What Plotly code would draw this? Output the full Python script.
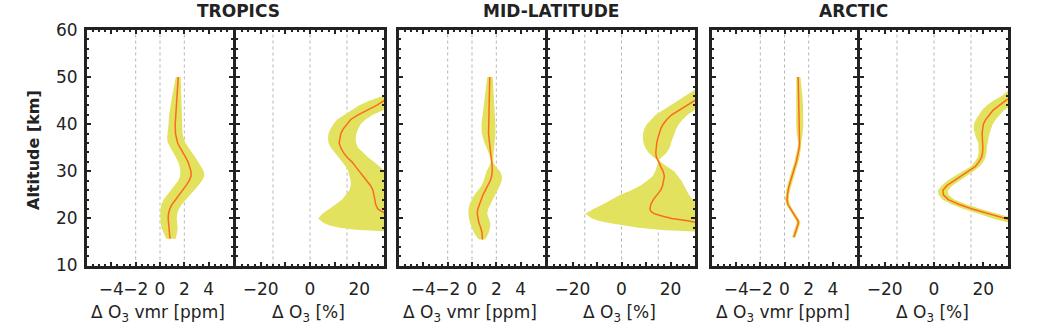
import plotly.graph_objects as go

W, H = 1043, 324

# ---------------- data ----------------
# Tropics, absolute difference (ppm)
trop_vmr_alt = [50, 48, 46, 44, 42, 40, 38, 37, 36, 35, 34, 33, 32, 31, 30, 29, 28, 27, 26, 25, 24, 23, 22, 21, 20, 19, 18, 17, 16, 15.7]
trop_vmr_lo = [1.3, 1.15, 1.0, 0.85, 0.75, 0.7, 0.6, 0.58, 0.65, 0.85, 1.1, 1.3, 1.5, 1.62, 1.67, 1.65, 1.5, 1.25, 0.95, 0.6, 0.3, 0.12, 0.05, 0.02, 0.02, 0.05, 0.12, 0.3, 0.45, 0.5]
trop_vmr_mean = [1.5, 1.45, 1.42, 1.35, 1.28, 1.25, 1.27, 1.33, 1.45, 1.65, 1.9, 2.1, 2.3, 2.45, 2.55, 2.55, 2.4, 2.15, 1.85, 1.55, 1.25, 1.0, 0.8, 0.7, 0.67, 0.7, 0.75, 0.8, 0.82, 0.82]
trop_vmr_hi = [1.7, 1.72, 1.73, 1.75, 1.78, 1.8, 1.85, 1.95, 2.1, 2.35, 2.65, 2.9, 3.15, 3.4, 3.6, 3.65, 3.45, 3.15, 2.8, 2.45, 2.1, 1.8, 1.55, 1.42, 1.37, 1.4, 1.45, 1.4, 1.35, 1.3]

# Tropics, relative difference (%)
trop_pct_alt = [50, 48, 47, 46, 45, 44, 43, 42, 41, 40, 39, 38, 37, 36, 35, 34, 33, 32, 31, 30, 29, 28, 27, 26, 25, 24, 23, 22, 21.5, 21, 20, 19, 18.5, 18, 17.6, 17.3, 17]
trop_pct_lo = [45, 38, 33, 29.5, 24, 20, 17, 14, 11, 9.5, 8.3, 7.5, 7.3, 7.5, 8.5, 10, 11.5, 13, 14.5, 15.5, 16, 16.5, 16.5, 16, 14.5, 13, 10.5, 8, 6.5, 5, 3.3, 5.5, 8, 12, 18.7, 29, 40]
trop_pct_mean = [60, 50, 42, 36, 30, 27, 23, 19.5, 16.5, 15, 13.5, 12.5, 12, 11.8, 12.5, 13.5, 15, 17, 18.5, 20, 21.5, 23, 24.5, 25.5, 26, 26.3, 26.6, 27.5, 29, 31, 35, 38, 40, 42, 44, 45, 46]
trop_pct_hi = [75, 62, 55, 48, 40, 34, 30, 25.5, 22.5, 20.5, 19.5, 18.8, 18.5, 18.7, 19.5, 21.5, 23.5, 26, 28.5, 30.5, 32, 33, 34, 35, 36, 37, 38, 40, 41, 42, 45, 48, 50, 52, 54, 56, 58]

# Mid-latitude, absolute difference (ppm)
mid_vmr_alt = [50, 48, 46, 44, 42, 40, 38, 37, 36, 35, 34, 33, 32, 31, 30, 29, 28, 27, 26, 25, 24, 23, 22, 21, 20, 19, 18, 17, 16, 15.5]
mid_vmr_lo = [1.25, 1.18, 1.08, 0.97, 0.88, 0.78, 0.8, 0.9, 1.03, 1.2, 1.38, 1.5, 1.56, 1.4, 1.2, 1.08, 0.95, 0.8, 0.5, 0.2, 0.0, -0.2, -0.28, -0.3, -0.25, -0.16, -0.02, 0.15, 0.4, 0.6]
mid_vmr_mean = [1.46, 1.44, 1.41, 1.39, 1.35, 1.33, 1.36, 1.4, 1.44, 1.5, 1.56, 1.62, 1.65, 1.66, 1.66, 1.62, 1.5, 1.33, 1.1, 0.9, 0.76, 0.6, 0.48, 0.43, 0.48, 0.57, 0.72, 0.82, 0.85, 0.85]
mid_vmr_hi = [1.7, 1.75, 1.8, 1.84, 1.88, 1.92, 1.93, 1.91, 1.87, 1.83, 1.78, 1.76, 1.75, 1.95, 2.3, 2.46, 2.44, 2.3, 2.1, 1.88, 1.72, 1.5, 1.32, 1.25, 1.35, 1.5, 1.48, 1.38, 1.2, 1.05]

# Mid-latitude, relative difference (%)
mid_pct_alt = [50, 48, 47, 46, 45, 44, 43, 42, 41, 40, 39, 38, 37, 36, 35, 34, 33, 32.5, 32, 31, 30, 29, 28, 27, 26, 25, 24, 23, 22, 21.5, 21, 20.5, 20, 19.5, 19, 18.5, 18, 17.5, 17.2, 17]
mid_pct_lo = [40, 32, 29.5, 26, 23, 20, 17, 14, 12, 10.3, 9.3, 8.8, 8.7, 9, 9.7, 11, 13, 14.6, 15, 14.5, 13.8, 12.8, 10.5, 7.8, 4, -0.5, -4, -7.5, -11.5, -13, -14.8, -13.5, -12, -9.5, -5, 0, 7, 18, 29, 38]
mid_pct_mean = [50, 40, 36, 33, 30, 26.5, 23.6, 20.5, 18.5, 17, 16, 15.3, 14.8, 14.4, 14.2, 14, 14.2, 14.8, 15.2, 16, 17, 17.5, 17.3, 16.8, 16, 14.5, 13, 12, 11.6, 12, 13.3, 16.5, 20.5, 27, 33, 36, 38, 40, 41, 42]
mid_pct_hi = [60, 48, 44, 39.5, 36, 32, 29.8, 27, 25, 23.4, 22.3, 21.5, 20.8, 20.2, 19.7, 18.5, 16.5, 15.3, 16, 18.5, 21.5, 23, 24.5, 25.5, 26.5, 27.5, 29, 31, 33, 34, 35, 36, 37, 38, 39, 40, 41, 42, 42.6, 43]

# Arctic, absolute difference (ppm)
arc_vmr_alt = [50, 48, 46, 44, 42, 40, 38, 37, 36, 35, 34, 33, 32, 31, 30, 29, 28, 27, 26, 25, 24, 23, 22, 21, 20, 19.5, 19, 18, 17, 16]
arc_vmr_lo = [0.98, 0.97, 0.96, 0.96, 0.96, 0.97, 1.0, 1.07, 1.12, 1.07, 1.0, 0.92, 0.82, 0.7, 0.57, 0.45, 0.33, 0.23, 0.14, 0.06, 0.04, 0.12, 0.32, 0.59, 0.84, 0.96, 0.99, 0.89, 0.74, 0.62]
arc_vmr_mean = [1.13, 1.15, 1.18, 1.2, 1.22, 1.25, 1.25, 1.25, 1.25, 1.22, 1.16, 1.08, 0.98, 0.86, 0.73, 0.61, 0.49, 0.39, 0.3, 0.22, 0.2, 0.28, 0.48, 0.75, 1.0, 1.12, 1.15, 1.05, 0.9, 0.77]
arc_vmr_hi = [1.32, 1.42, 1.48, 1.53, 1.55, 1.56, 1.5, 1.42, 1.38, 1.37, 1.32, 1.24, 1.14, 1.02, 0.89, 0.77, 0.65, 0.55, 0.46, 0.38, 0.36, 0.44, 0.64, 0.91, 1.16, 1.28, 1.31, 1.21, 1.06, 0.92]

# Arctic, relative difference (%)
arc_pct_alt = [50, 48, 47, 46, 45, 44, 43, 42, 41, 40, 39, 38, 37, 36, 35, 34, 33, 32, 31, 30, 29, 28, 27, 26, 25, 24, 23, 22, 21, 20, 19, 18]
arc_pct_lo = [38, 32, 29.8, 27.5, 24, 21.5, 19.5, 18.3, 17, 16.2, 16.1, 16.5, 17.1, 18, 18.2, 18.1, 17.7, 16.5, 14.9, 11.6, 8.4, 5.4, 3.1, 1.6, 1.8, 3.4, 7, 12, 18.2, 23.8, 31, 38]
arc_pct_mean = [42, 36, 34, 32, 29, 26.5, 24, 22.5, 21, 20, 19.6, 19.5, 19.6, 19.8, 19.8, 19.7, 19.3, 18.2, 16.7, 13.8, 10.8, 7.8, 5.3, 3.6, 3.8, 5.8, 10, 15.5, 22, 27.8, 35, 42]
arc_pct_hi = [46, 40, 38.2, 36.5, 34, 31.5, 28.5, 26.7, 25, 23.8, 23.1, 22.5, 22.1, 21.6, 21.4, 21.3, 20.9, 19.9, 18.5, 16, 13.2, 10.2, 7.5, 5.6, 5.8, 8.2, 13, 19, 25.8, 31.8, 39, 46]

region_titles = ["TROPICS", "MID-LATITUDE", "ARCTIC"]
vmr_title = "Δ O<sub>3</sub> vmr [ppm]"
pct_title = "Δ O<sub>3</sub> [%]"
y_title = "Altitude [km]"

vmr_ticks = [-4, -2, 0, 2, 4]
vmr_ticklabels = ["−4", "−2", "0", "2", "4"]
pct_ticks = [-20, -10, 0, 10, 20]
pct_ticklabels = ["−20", "", "0", "", "20"]
alt_ticks = [10, 20, 30, 40, 50, 60]
vmr_grid = [-2, 0, 2]
pct_grid = [-15, 0, 15]
vmr_range = [-6, 6]
pct_range = [-30, 30]
alt_range = [10, 60]

panels = [
    ("vmr", trop_vmr_alt, trop_vmr_lo, trop_vmr_mean, trop_vmr_hi),
    ("pct", trop_pct_alt, trop_pct_lo, trop_pct_mean, trop_pct_hi),
    ("vmr", mid_vmr_alt, mid_vmr_lo, mid_vmr_mean, mid_vmr_hi),
    ("pct", mid_pct_alt, mid_pct_lo, mid_pct_mean, mid_pct_hi),
    ("vmr", arc_vmr_alt, arc_vmr_lo, arc_vmr_mean, arc_vmr_hi),
    ("pct", arc_pct_alt, arc_pct_lo, arc_pct_mean, arc_pct_hi),
]

# ---------------- layout geometry (pixels) ----------------
LW = 3
panel_px = [(87, 233), (236, 384), (399, 545), (548, 695), (712, 857), (860, 1008)]
plot_top_px, plot_bot_px = 30, 265.5

BAND = "#e2e25e"
LINE = "#fb6a1e"
INK = "#222222"
FONT = "DejaVu Sans"

fig = go.Figure()
layout = dict(
    width=W, height=H, margin=dict(l=0, r=0, t=0, b=0, autoexpand=False),
    paper_bgcolor="white", plot_bgcolor="rgba(0,0,0,0)", showlegend=False,
    font=dict(family=FONT, size=17, color=INK),
)
shapes = []
annotations = []

ydom = [1 - plot_bot_px / H, 1 - plot_top_px / H]

for i, (kind, alt, lo, mean, hi) in enumerate(panels):
    n = i + 1
    xa = "x" if n == 1 else f"x{n}"
    ya = "y" if n == 1 else f"y{n}"
    xkey = "xaxis" if n == 1 else f"xaxis{n}"
    ykey = "yaxis" if n == 1 else f"yaxis{n}"
    x0, x1 = panel_px[i]

    fig.add_trace(go.Scatter(
        x=list(hi) + list(lo)[::-1], y=list(alt) + list(alt)[::-1],
        fill="toself", fillcolor=BAND, line=dict(width=0), mode="lines",
        hoverinfo="skip", xaxis=xa, yaxis=ya))
    fig.add_trace(go.Scatter(
        x=mean, y=alt, mode="lines", line=dict(color=LINE, width=1.5),
        xaxis=xa, yaxis=ya))

    if kind == "vmr":
        rng, tv, tt, grid, mdt = vmr_range, vmr_ticks, vmr_ticklabels, vmr_grid, 0.5
    else:
        rng, tv, tt, grid, mdt = pct_range, pct_ticks, pct_ticklabels, pct_grid, 2.5

    layout[xkey] = dict(
        domain=[x0 / W, x1 / W], range=rng, anchor=ya,
        tickmode="array", tickvals=tv, ticktext=tt, tickangle=0,
        ticks="inside", ticklen=4, tickwidth=1.5, tickcolor=INK,
        minor=dict(ticks="inside", dtick=mdt, ticklen=2, tickcolor=INK, showgrid=False),
        showline=True, linewidth=LW, linecolor=INK, mirror="allticks",
        showgrid=False, zeroline=False, fixedrange=True, automargin=False,
        tickfont=dict(family=FONT, size=17, color=INK),
        ticklabelstandoff=6,
    )
    layout[ykey] = dict(
        domain=ydom, range=alt_range, anchor=xa,
        tickmode="array", tickvals=alt_ticks,
        ticks="inside", ticklen=4, tickwidth=1.5, tickcolor=INK,
        minor=dict(ticks="inside", dtick=2, ticklen=2, tickcolor=INK, showgrid=False),
        showline=True, linewidth=LW, linecolor=INK, mirror="allticks",
        showgrid=False, zeroline=False, fixedrange=True, automargin=False,
        showticklabels=(n == 1),
        tickfont=dict(family=FONT, size=17, color=INK),
        ticklabelstandoff=3,
    )
    for g in grid:
        shapes.append(dict(type="line", xref=xa, yref=f"{ya} domain",
                           x0=g, x1=g, y0=0, y1=1, layer="below",
                           line=dict(color="#b5b5b5", width=1, dash="dot")))

    cx = (x0 + x1) / 2 - 2
    annotations.append(dict(
        text=vmr_title if kind == "vmr" else pct_title,
        xref="paper", yref="paper", x=cx / W, y=1 - 313 / H,
        xanchor="center", yanchor="middle", showarrow=False,
        font=dict(family=FONT, size=17, color=INK)))

title_px = [238, 551, 853]
for t, px in zip(region_titles, title_px):
    annotations.append(dict(
        text=f"<b>{t}</b>", xref="paper", yref="paper", x=px / W, y=1 - 11 / H,
        xanchor="center", yanchor="middle", showarrow=False,
        font=dict(family=FONT, size=17, color=INK)))

annotations.append(dict(
    text=f"<b>{y_title}</b>", xref="paper", yref="paper", x=33 / W, y=1 - 150 / H,
    xanchor="center", yanchor="middle", textangle=-90, showarrow=False,
    font=dict(family=FONT, size=16, color=INK)))

layout["shapes"] = shapes
layout["annotations"] = annotations
fig.update_layout(**layout)

fig.write_html("out.html", config={"displayModeBar": False})
